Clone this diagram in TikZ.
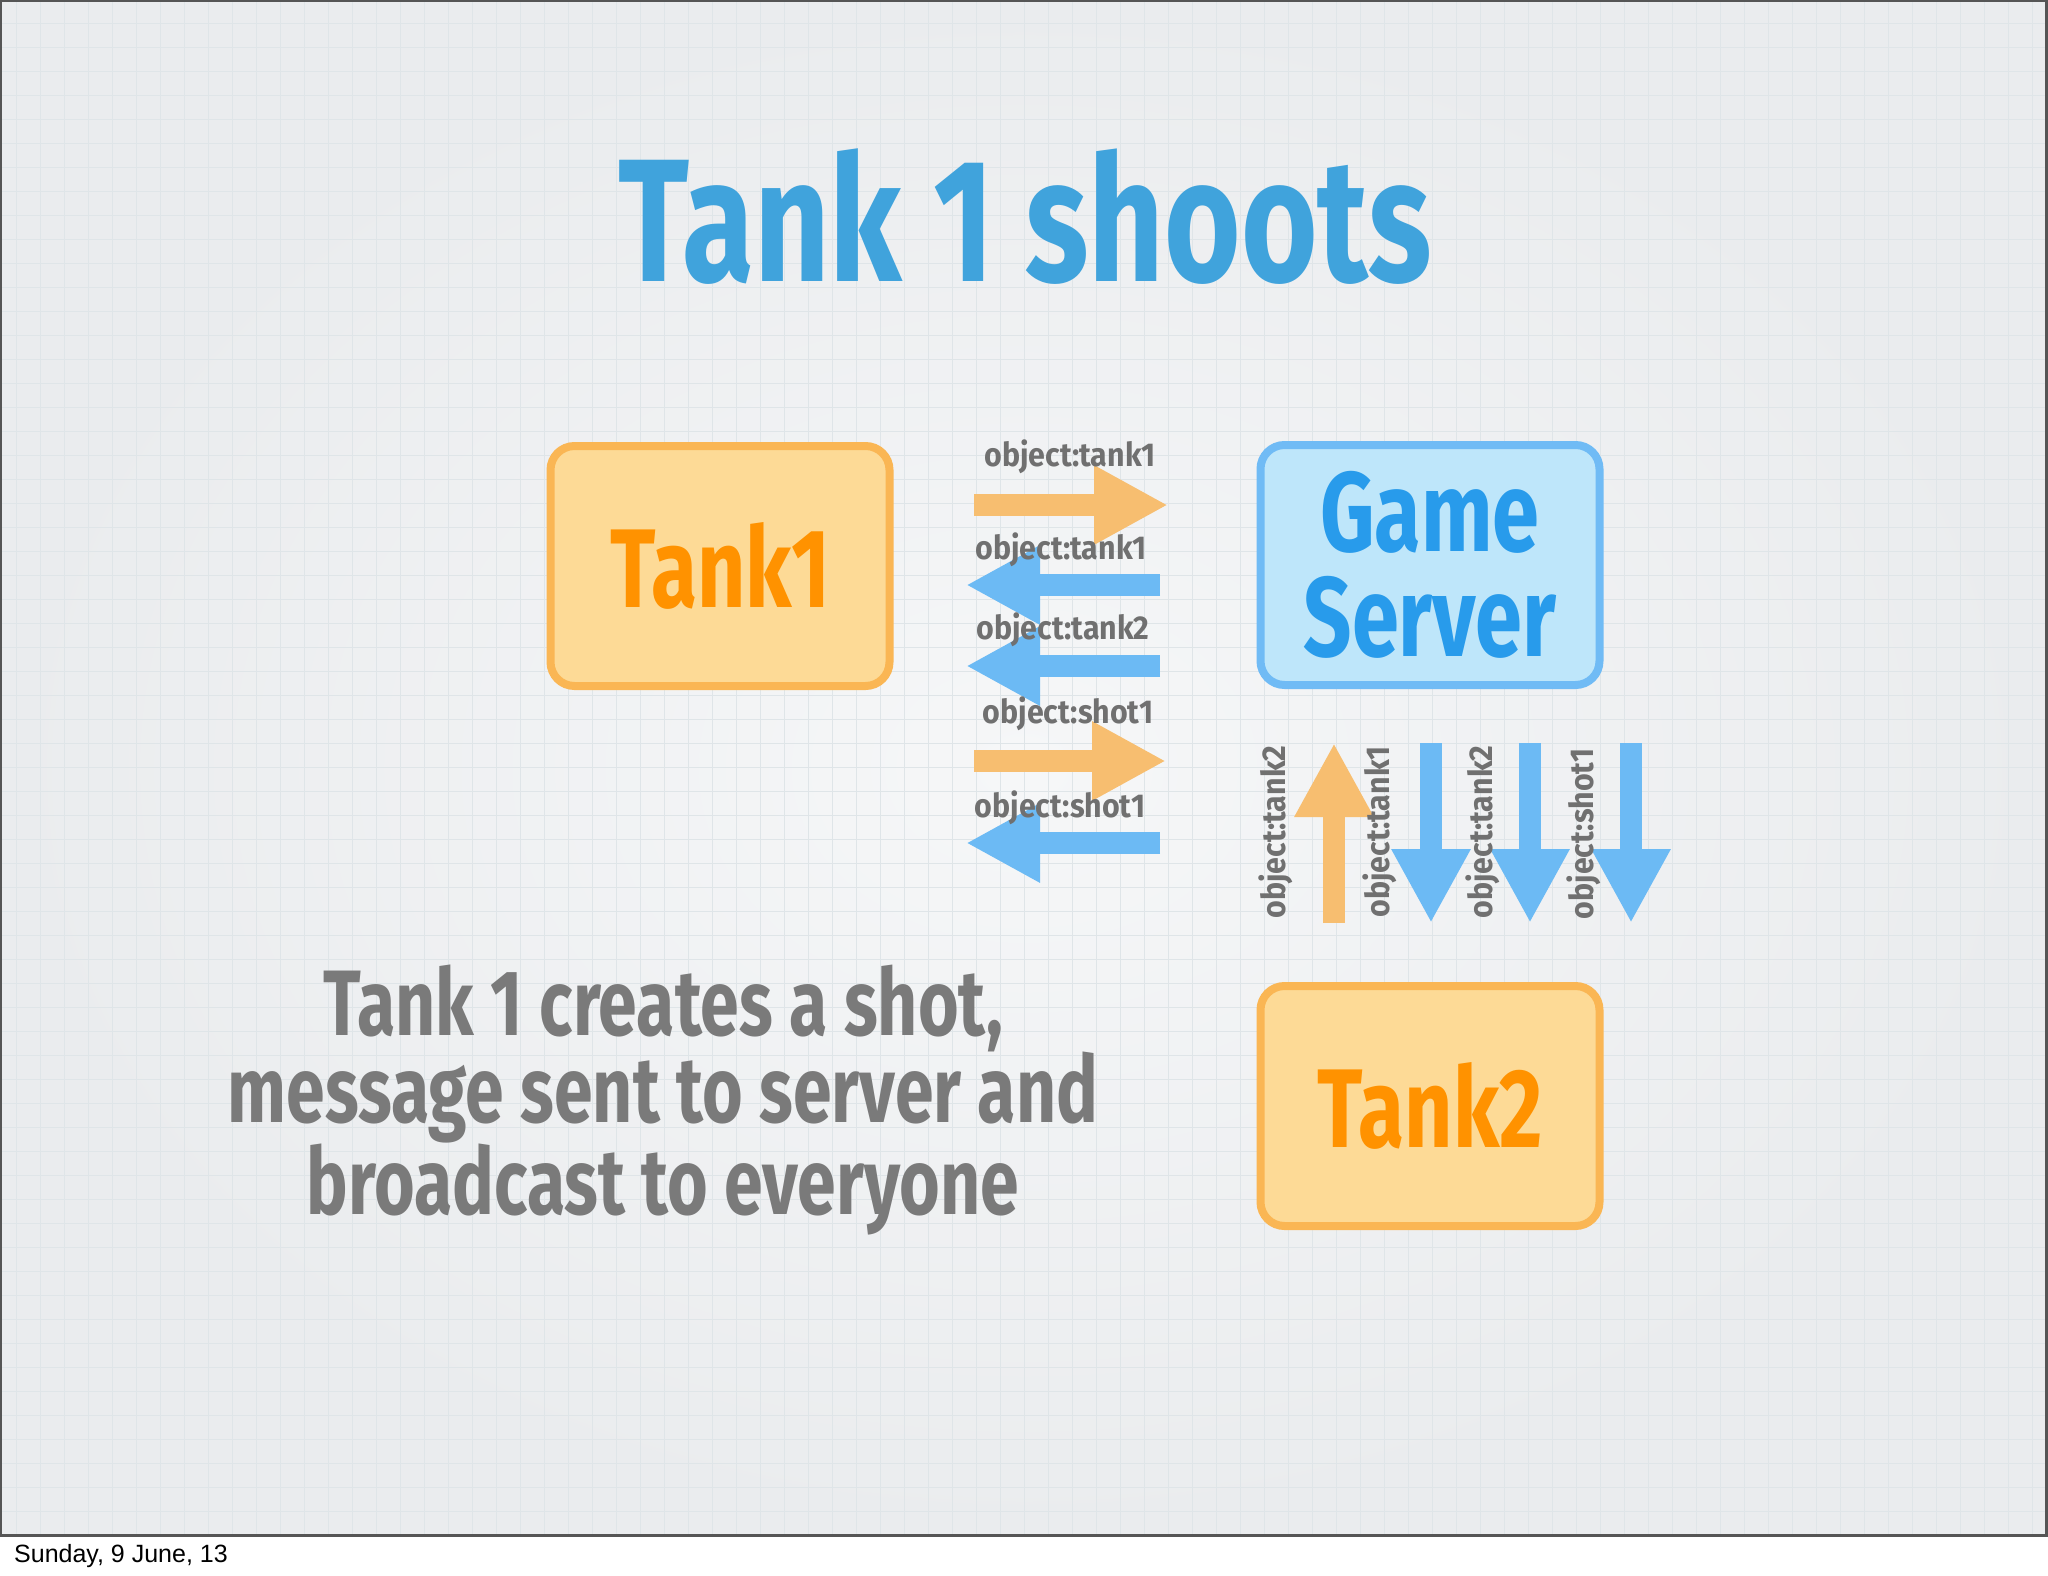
\documentclass[tikz,border=0pt]{standalone}
\usepackage{fontspec}
\usepackage{tikz}
\usetikzlibrary{arrows.meta}
\setmainfont{Liberation Sans}
\newfontfamily\chalk[FakeStretch=0.75]{Fira Sans}
\newfontfamily\msgfont[FakeStretch=0.92]{Fira Sans}

\definecolor{slidemid}{RGB}{246,247,248}
\definecolor{slideedge}{RGB}{234,236,238}
\definecolor{gridcol}{RGB}{223,229,232}
\definecolor{framecol}{RGB}{85,85,85}
\definecolor{titleblue}{RGB}{64,163,220}
\definecolor{serverblue}{RGB}{40,155,235}
\definecolor{boxblue}{RGB}{190,230,250}
\definecolor{lineblue}{RGB}{112,187,245}
\definecolor{tankorange}{RGB}{255,146,0}
\definecolor{boxorange}{RGB}{253,218,150}
\definecolor{lineorange}{RGB}{250,182,84}
\definecolor{arroworange}{RGB}{247,190,112}
\definecolor{arrowblue}{RGB}{108,186,244}
\definecolor{msggray}{RGB}{112,112,112}
\definecolor{notegray}{RGB}{122,122,122}

\tikzset{
  gridline/.style={draw=gridcol, line width=1.5pt},
  tankbox/.style={draw=lineorange, fill=boxorange, line width=8pt, rounded corners=24pt,
    minimum width=339pt, minimum height=240pt, inner sep=0pt, text=tankorange,
    font=\chalk\bfseries\fontsize{112}{112}\selectfont},
  serverbox/.style={tankbox, draw=lineblue, fill=boxblue, text=serverblue, align=center,
    font=\chalk\bfseries\fontsize{113}{105}\selectfont},
  fatarrow/.style={line width=22pt, -{Triangle[length=74pt, width=74pt]}},
  orangemsg/.style={fatarrow, draw=arroworange},
  bluemsg/.style={fatarrow, draw=arrowblue},
  msglabel/.style={inner sep=0pt, text=msggray, font=\msgfont\bfseries\fontsize{33}{33}\selectfont},
  titletext/.style={inner sep=0pt, text=titleblue, font=\chalk\bfseries\fontsize{175}{175}\selectfont},
  notetext/.style={inner sep=0pt, text=notegray, align=center,
    font=\chalk\bfseries\fontsize{93}{87.5}\selectfont}
}

\begin{document}
\begin{tikzpicture}[x=1pt,y=1pt,yscale=-1,xscale=1]
\useasboundingbox (0,0) rectangle (2048,1576);

%Shape: Rectangle (slide)
\fill[white] (0,0) rectangle (2048,1576);
\fill[inner color=slidemid, outer color=slideedge] (0,0) rectangle (2048,1536);
%Straight Lines (grid)
\foreach \i in {0,...,84} \draw[gridline] ({16.7+24*\i},0) -- ({16.7+24*\i},1536);
\foreach \j in {0,...,62} \draw[gridline] (0,{23.3+24*\j}) -- (2048,{23.3+24*\j});
\draw[framecol, line width=2.5pt] (1.2,1.2) rectangle (2046.5,1535.5);

% Text Node
\node[titletext, anchor=base] (title) at (1025,281) {Tank 1 shoots};

%Shape: Rounded Rect
\node[tankbox] (tank1) at (720,566) {Tank1};
%Shape: Rounded Rect
\node[serverbox] (server) at (1430,565) {Game\\Server};
%Shape: Rounded Rect
\node[tankbox] (tank2) at (1430,1106) {Tank2};

%Straight Lines (tank1 <-> server)
\coordinate (m1s) at (974,505);  \coordinate (m1e) at (1168,505);
\coordinate (m2s) at (1160,585); \coordinate (m2e) at (966,585);
\coordinate (m3s) at (1160,666); \coordinate (m3e) at (966,666);
\coordinate (m4s) at (974,761);  \coordinate (m4e) at (1166,761);
\coordinate (m5s) at (1160,843); \coordinate (m5e) at (966,843);
\draw[orangemsg] (m1s) -- (m1e);
\draw[bluemsg] (m2s) -- (m2e);
\draw[bluemsg] (m3s) -- (m3e);
\draw[orangemsg] (m4s) -- (m4e);
\draw[bluemsg] (m5s) -- (m5e);

%Straight Lines (server <-> tank2)
\coordinate (v1s) at (1334,923); \coordinate (v1e) at (1334,743);
\draw[orangemsg] (v1s) -- (v1e);
\foreach \n/\x in {2/1431,3/1530,4/1631}{
  \coordinate (v\n s) at (\x,743); \coordinate (v\n e) at (\x,923);
  \draw[bluemsg] (v\n s) -- (v\n e);
}

% Text Node
\node[msglabel] (m1lbl) at (1070,457) {object:tank1};
% Text Node
\node[msglabel] (m2lbl) at (1061,550) {object:tank1};
% Text Node
\node[msglabel] (m3lbl) at (1063,630) {object:tank2};
% Text Node
\node[msglabel] (m4lbl) at (1068,714) {object:shot1};
% Text Node
\node[msglabel] (m5lbl) at (1060,808) {object:shot1};
% Text Node
\node[msglabel, rotate=90] (v1lbl) at (1276,832) {object:tank2};
% Text Node
\node[msglabel, rotate=90] (v2lbl) at (1380,832) {object:tank1};
% Text Node
\node[msglabel, rotate=90] (v3lbl) at (1483,832) {object:tank2};
% Text Node
\node[msglabel, rotate=90] (v4lbl) at (1584,834) {object:shot1};

% Text Node
\node[notetext] (note) at (663,1100) {Tank 1 creates a shot,\\message sent to server and\\broadcast to everyone};

% Text Node
\node[anchor=base west, inner sep=0pt, font=\fontsize{25}{25}\selectfont] (stamp) at (14,1562) {Sunday, 9 June, 13};

\end{tikzpicture}
\end{document}
